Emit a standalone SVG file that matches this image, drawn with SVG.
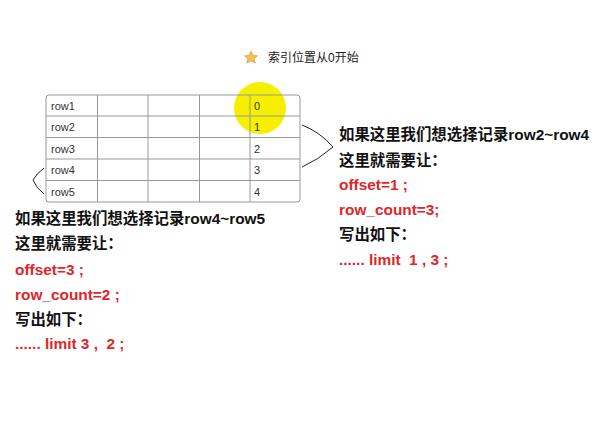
<svg xmlns="http://www.w3.org/2000/svg" width="593" height="433" viewBox="0 0 593 433">
<style>
.cell{font-family:"Liberation Sans","Noto Sans CJK SC",sans-serif;font-size:11px;fill:#333}
.t{font-family:"Liberation Sans","Noto Sans CJK SC",sans-serif;font-size:15.4px;font-weight:bold;fill:#111}
.r{fill:#e0252b}
.grid{stroke:#999;stroke-width:1;fill:none}
.brace{stroke:#222;stroke-width:1;fill:none}
</style>
<rect width="593" height="433" fill="#fff"/>
<g id="title">
<polygon points="251,51 253,55.5 257.5,55.8 254,58.8 255.3,63.2 251,60.8 246.7,63.2 248,58.8 244.5,55.8 249,55.5" fill="#f2c24a" stroke="#c9962a" stroke-width="0.6"/>
<text x="268" y="61.5" style="font-family:'Liberation Sans','Noto Sans CJK SC',sans-serif;font-size:12px;fill:#222">索引位置从0开始</text>
</g>
<g id="table">
<circle cx="260" cy="108" r="26" fill="#f6f000"/>
<rect x="46" y="95" width="254" height="107" rx="3" class="grid"/>
<path class="grid" d="M46 116H300M46 137.5H300M46 159H300M46 180.5H300M97.5 95V202M148 95V202M199.5 95V202M250 95V202"/>
<text class="cell" x="51" y="110">row1</text>
<text class="cell" x="51" y="131">row2</text>
<text class="cell" x="51" y="152.5">row3</text>
<text class="cell" x="51" y="174">row4</text>
<text class="cell" x="51" y="195.5">row5</text>
<text class="cell" x="254" y="110">0</text>
<text class="cell" x="254" y="131">1</text>
<text class="cell" x="254" y="152.5">2</text>
<text class="cell" x="254" y="174">3</text>
<text class="cell" x="254" y="195.5">4</text>
</g>
<g id="connectors">
<path class="brace" d="M302 125 Q320 132 333 147 Q318 160 302 167"/>
<path class="brace" d="M44 168 Q36 174 33 180 Q36 188 44 194"/>
</g>
<g id="right-note">
<text class="t" x="339" y="140">如果这里我们想选择记录row2~row4</text>
<text class="t" x="339" y="166">这里就需要让：</text>
<text class="t r" x="339" y="190">offset=1 ;</text>
<text class="t r" x="339" y="215">row_count=3;</text>
<text class="t" x="339" y="240">写出如下：</text>
<text class="t r" x="339" y="265" xml:space="preserve">...... limit  1 , 3 ;</text>
</g>
<g id="left-note">
<text class="t" x="15" y="224">如果这里我们想选择记录row4~row5</text>
<text class="t" x="15" y="249">这里就需要让：</text>
<text class="t r" x="15" y="275">offset=3 ;</text>
<text class="t r" x="15" y="300">row_count=2 ;</text>
<text class="t" x="15" y="325">写出如下：</text>
<text class="t r" x="15" y="349" xml:space="preserve">...... limit 3 ,  2 ;</text>
</g>
</svg>
